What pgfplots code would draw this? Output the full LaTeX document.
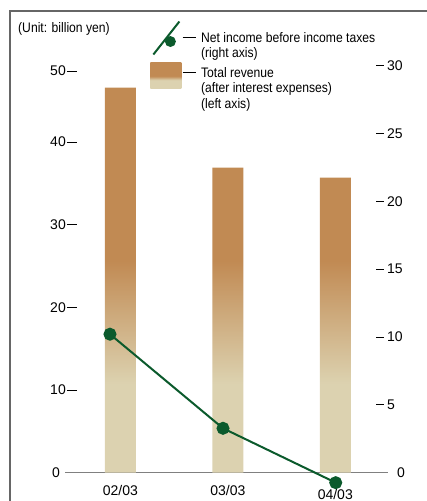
\documentclass[border=0pt]{standalone}
\usepackage{fontspec}
\setmainfont{Liberation Sans}
\newfontfamily\legfont{Liberation Sans}[FakeStretch=0.88]
\usepackage{pgfplots}
\pgfplotsset{compat=1.18}
\definecolor{brn}{HTML}{C18A53}
\definecolor{bge}{HTML}{DCD2B0}
\definecolor{grn}{HTML}{0B5A2C}
\definecolor{frm}{HTML}{666666}
\pgfdeclareverticalshading{barshade}{100bp}{color(0bp)=(bge); color(25bp)=(bge); color(36.5bp)=(bge); color(52.5bp)=(brn); color(100bp)=(brn)}
\pgfdeclareverticalshading{legshade}{100bp}{color(0bp)=(bge); color(25bp)=(bge); color(40.5bp)=(bge); color(48bp)=(brn); color(100bp)=(brn)}
\newcommand\ldash{\kern1pt\rule[4.2pt]{10pt}{0.9pt}}
\newcommand\rdash{\rule[4.2pt]{8pt}{0.9pt}\kern3pt}
\newcommand\gdash{\rule[4.2pt]{13pt}{0.9pt}\kern5.5pt}
\newcommand\tickf{\fontsize{14}{16}\selectfont}
\newcommand\legf{\legfont\fontsize{13.8}{15.3}\selectfont}
\begin{document}
\begin{tikzpicture}
\useasboundingbox (0pt,0pt) rectangle (426pt,501pt);
\draw[frm, line width=1.2pt] (10pt,-1pt) -- (10pt,490pt) -- (427pt,490pt);
\node[anchor=base west, inner sep=0pt, font=\legf] at (18pt,468pt) {(Unit: billion yen)};
\begin{axis}[
  at={(65pt,28.5pt)}, anchor=south west,
  scale only axis, width=323pt, height=413pt,
  xmin=-0.5156, xmax=2.4905, ymin=0, ymax=50,
  axis lines*=left, axis line style={-},
  y axis line style={draw=none},
  x axis line style={draw=gray, line width=1pt},
  major tick length=0pt,
  xtick={0,1,2}, xticklabels={02/03,03/03,\raisebox{-4pt}{04/03}},
  ytick={0,10,20,30,40,48.6},
  yticklabels={0\kern17pt,10\ldash,20\ldash,30\ldash,40\ldash,50\ldash},
  ticklabel style={font=\tickf, inner sep=0pt},
  yticklabel style={anchor=east, xshift=12pt},
  xticklabel style={anchor=base, yshift=-23pt},
  ybar, bar width=31pt, bar shift=0pt,
]
\addplot[draw=none, shading=barshade] coordinates {(0,46.6) (1,36.9) (2,35.7)};
\end{axis}
\begin{axis}[
  at={(65pt,28.5pt)}, anchor=south west,
  scale only axis, width=323pt, height=413pt,
  xmin=-0.5156, xmax=2.4905, ymin=0, ymax=30.46,
  axis x line=none, axis y line*=right, y axis line style={draw=none},
  major tick length=0pt, xtick=\empty,
  ytick={0,5,10,15,20,25,30},
  yticklabels={\kern21pt0,\rdash 5,\rdash 10,\rdash 15,\rdash 20,\rdash 25,\rdash 30},
  yticklabel style={font=\tickf, anchor=west, inner sep=0pt, xshift=-12pt},
  clip=false,
  legend style={at={(axis description cs:0.356,1.0714)}, anchor=north west,
    draw=none, fill=none, inner sep=0pt, row sep=4.5pt, column sep=0pt,
    font=\legf, cells={anchor=base west, align=left, inner sep=0pt}},
]
\addplot[grn, line width=2pt, mark=*, mark size=5.5pt, mark options={fill=grn, draw=grn}, forget plot] coordinates {(-0.097,10.2) (0.955,3.26) (2.004,-0.75)};
\addlegendimage{legend image code/.code={
  \path (0pt,0pt);
  \draw[overlay, grn, line width=2pt] (-27pt,3pt) -- (-1pt,36pt);
  \fill[overlay, grn, draw=none] (-10pt,16pt) circle (5.5pt);}}
\addlegendentry{\gdash Net income before income taxes\\\hphantom{\gdash}(right axis)}
\addlegendimage{legend image code/.code={
  \path (0pt,0pt);
  \path[overlay, draw=none, shading=legshade] (-30pt,20pt) rectangle (1pt,46pt);}}
\addlegendentry{\gdash Total revenue\\\hphantom{\gdash}(after interest expenses)\\\hphantom{\gdash}(left axis)}
\end{axis}
\end{tikzpicture}
\end{document}
